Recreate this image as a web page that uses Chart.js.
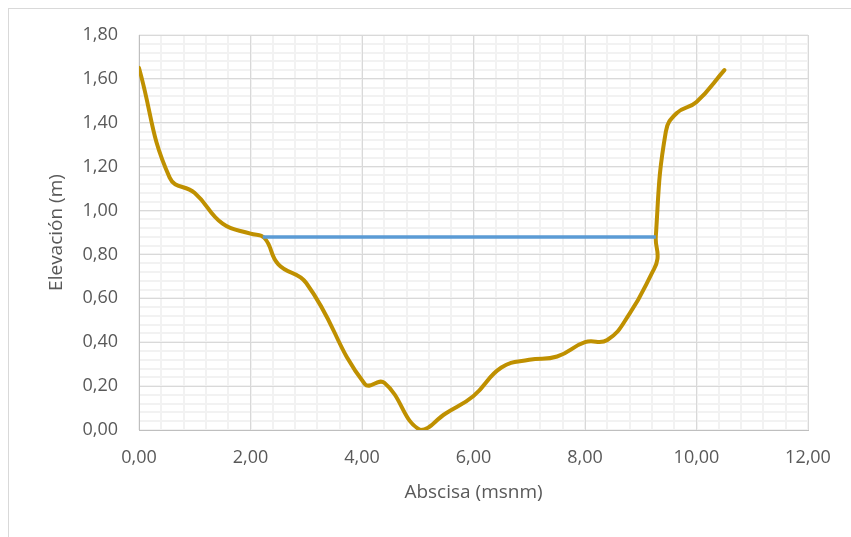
<!DOCTYPE html>
<html>
<head>
<meta charset="utf-8">
<script src="https://cdn.jsdelivr.net/npm/chart.js@4.4.1/dist/chart.umd.min.js"></script>
<style>
  html, body { margin: 0; padding: 0; background: #fff; overflow: hidden; }
  #frame { position: absolute; left: 8px; top: 8px; width: 900px; height: 600px; border: 1px solid #d9d9d9; }
  #wrap { position: absolute; left: 0; top: 0; width: 851px; height: 537px; }
</style>
</head>
<body>
<div id="frame"></div>
<div id="wrap"><canvas id="chart"></canvas></div>
<script>
// Perfil del terreno (abscisa, elevación)
const terrenoX = [0.00, 0.55, 1.00, 1.50, 2.00, 2.25, 2.50, 3.00, 4.05, 4.40, 5.05, 5.50, 6.00,
                  6.50, 7.00, 7.50, 8.00, 8.40, 8.80, 9.20, 9.30, 9.27, 9.45, 9.65, 10.00, 10.50];
const terrenoY = [1.65, 1.15, 1.08, 0.94, 0.895, 0.875, 0.755, 0.67, 0.21, 0.215, 0.00, 0.075, 0.155,
                  0.285, 0.32, 0.335, 0.40, 0.41, 0.53, 0.715, 0.78, 0.88, 1.36, 1.445, 1.495, 1.64];

// Nivel del agua
const aguaX = [2.22, 9.27];
const aguaY = [0.88, 0.88];

const ejeX = { min: 0, max: 12, paso: 2, pasoMenor: 0.4 };
const ejeY = { min: 0, max: 1.8, paso: 0.2, pasoMenor: 0.04 };

const textColor = '#595959';
const coma = v => v.toFixed(2).replace('.', ',');
const puntos = (xs, ys) => xs.map((x, i) => ({ x: x, y: ys[i] }));

const minorGrid = (cfg, pos) => ({
    type: 'linear',
    position: pos,
    min: cfg.min,
    max: cfg.max,
    ticks: { display: false, stepSize: cfg.pasoMenor, maxTicksLimit: 1000 },
    grid: { color: '#f2f2f2', lineWidth: 2, drawTicks: false, z: -2 },
    border: { display: false }
});

document.addEventListener('DOMContentLoaded', function() {
    const ctx = document.getElementById('chart').getContext('2d');
    new Chart(ctx, {
        type: 'scatter',
        data: {
            datasets: [{
                label: 'Nivel',
                data: puntos(aguaX, aguaY),
                showLine: true,
                borderColor: '#5b9bd5',
                borderWidth: 3.5,
                pointRadius: 0,
                tension: 0,
                xAxisID: 'x',
                yAxisID: 'y'
            }, {
                label: 'Terreno',
                data: puntos(terrenoX, terrenoY),
                showLine: true,
                borderColor: '#bf9000',
                borderWidth: 4,
                borderCapStyle: 'round',
                borderJoinStyle: 'round',
                pointRadius: 0,
                tension: 0.45,
                xAxisID: 'x',
                yAxisID: 'y'
            }]
        },
        options: {
            responsive: true,
            maintainAspectRatio: false,
            animation: false,
            events: [],
            layout: { padding: { left: 0, right: 43, top: 35, bottom: 0 } },
            plugins: { legend: { display: false }, tooltip: { enabled: false } },
            scales: {
                xMinor: minorGrid(ejeX, 'bottom'),
                yMinor: minorGrid(ejeY, 'left'),
                x: {
                    type: 'linear',
                    position: 'bottom',
                    min: ejeX.min,
                    max: ejeX.max,
                    afterFit: s => { s.height = 107; },
                    ticks: {
                        stepSize: ejeX.paso,
                        color: textColor,
                        font: { family: 'Open Sans', size: 18 },
                        padding: 17,
                        maxRotation: 0,
                        autoSkip: false,
                        callback: v => coma(v)
                    },
                    grid: { color: '#d9d9d9', lineWidth: 1, drawTicks: false },
                    border: { color: '#bfbfbf', width: 1 },
                    title: {
                        display: true,
                        text: 'Abscisa (msnm)',
                        color: textColor,
                        font: { family: 'Open Sans', size: 19 },
                        padding: { top: 0, bottom: 33 }
                    }
                },
                y: {
                    type: 'linear',
                    position: 'left',
                    min: ejeY.min,
                    max: ejeY.max,
                    afterFit: s => { s.width = 139; },
                    ticks: {
                        stepSize: ejeY.paso,
                        color: textColor,
                        font: { family: 'Open Sans', size: 18 },
                        padding: 21,
                        autoSkip: false,
                        callback: v => coma(v)
                    },
                    grid: { color: '#d9d9d9', lineWidth: 1, drawTicks: false },
                    border: { color: '#bfbfbf', width: 1 },
                    title: {
                        display: true,
                        text: 'Elevación (m)',
                        color: textColor,
                        font: { family: 'Open Sans', size: 19 },
                        padding: { top: 45, bottom: 0 }
                    }
                }
            }
        }
    });
});
</script>
</body>
</html>
